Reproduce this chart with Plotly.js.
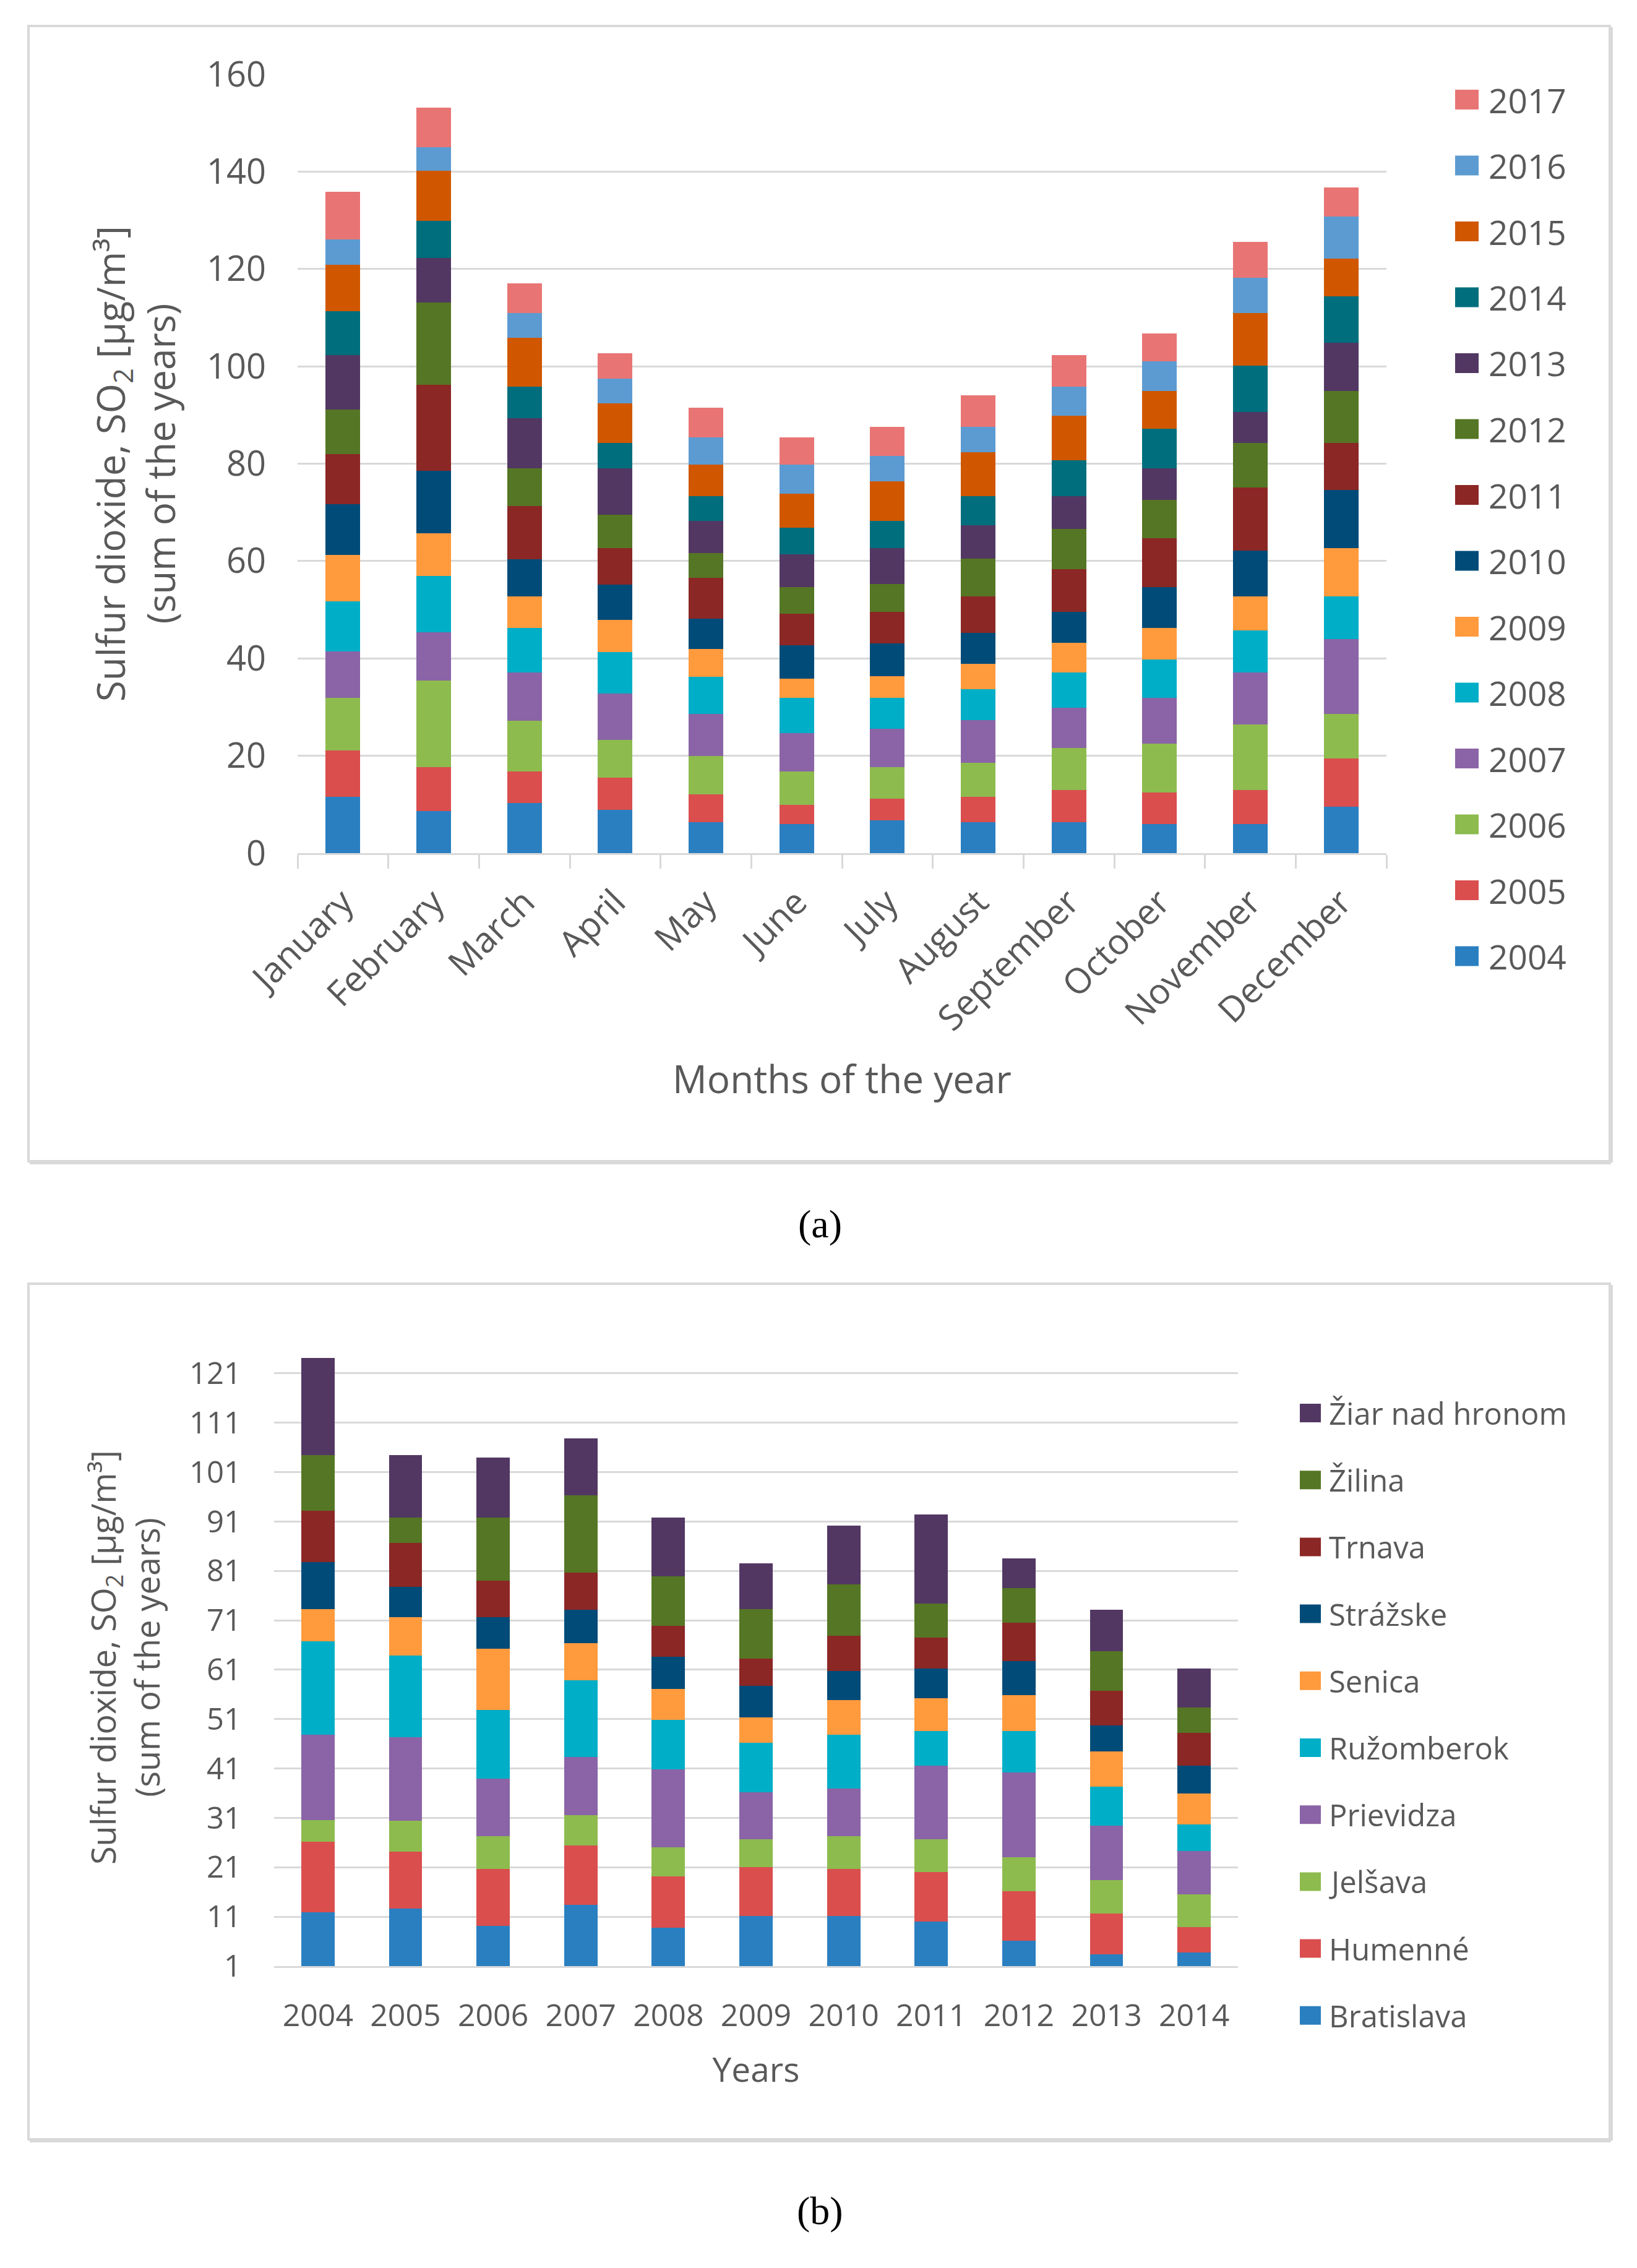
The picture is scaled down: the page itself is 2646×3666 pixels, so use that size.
<!DOCTYPE html>
<html>
<head>
<meta charset="utf-8">
<script src="https://cdn.plot.ly/plotly-3.0.1.min.js"></script>
<style>html,body{margin:0;padding:0;background:#fff;}#chart{width:2646px;height:3666px;}</style>
</head>
<body>
<div id="chart"></div>
<script>
// ---------- Chart (a): months × years ----------
const months = ['January','February','March','April','May','June','July','August','September','October','November','December'];
const yearNames = ['2004','2005','2006','2007','2008','2009','2010','2011','2012','2013','2014','2015','2016','2017'];
const y2004 = [11.6, 8.6, 10.3, 8.9, 6.3, 6.0, 6.7, 6.4, 6.4, 6.0, 6.0, 9.5];
const y2005 = [9.5, 9.1, 6.5, 6.6, 5.8, 3.9, 4.5, 5.2, 6.5, 6.5, 6.9, 9.9];
const y2006 = [10.8, 17.7, 10.4, 7.7, 7.8, 6.9, 6.5, 7.0, 8.7, 10.0, 13.5, 9.2];
const y2007 = [9.5, 10.0, 9.9, 9.6, 8.7, 7.9, 7.8, 8.7, 8.3, 9.4, 10.7, 15.4];
const y2008 = [10.3, 11.5, 9.1, 8.5, 7.6, 7.2, 6.4, 6.4, 7.2, 7.9, 8.6, 8.7];
const y2009 = [9.6, 8.8, 6.5, 6.6, 5.7, 3.9, 4.4, 5.2, 6.1, 6.5, 7.0, 10.0];
const y2010 = [10.4, 12.8, 7.7, 7.3, 6.3, 6.9, 6.8, 6.4, 6.4, 8.4, 9.4, 11.9];
const y2011 = [10.3, 17.7, 10.9, 7.4, 8.4, 6.5, 6.5, 7.4, 8.7, 10.0, 13.0, 9.6];
const y2012 = [9.1, 16.9, 7.7, 6.9, 5.1, 5.5, 5.7, 7.8, 8.3, 7.9, 9.1, 10.7];
const y2013 = [11.2, 9.1, 10.4, 9.5, 6.5, 6.7, 7.3, 6.8, 6.7, 6.4, 6.4, 9.9];
const y2014 = [9.0, 7.7, 6.4, 5.2, 5.1, 5.4, 5.6, 6.0, 7.4, 8.2, 9.6, 9.6];
const y2015 = [9.6, 10.3, 10.0, 8.2, 6.5, 7.1, 8.2, 9.1, 9.1, 7.7, 10.8, 7.7];
const y2016 = [5.2, 4.8, 5.1, 5.1, 5.6, 5.9, 5.2, 5.2, 6.0, 6.1, 7.2, 8.7];
const y2017 = [9.8, 8.2, 6.1, 5.2, 6.1, 5.6, 6.0, 6.5, 6.5, 5.7, 7.3, 6.0];
const yearColors = ['#2A7FC1','#DA4E4E','#8DBB4E','#8A64A6','#00AEC7','#FF9A3D','#004B78','#8B2725','#557624','#523763','#006E7D','#D05700','#5C9BD1','#E87574'];
const yearTickVals = [0, 20, 40, 60, 80, 100, 120, 140, 160];

// ---------- Chart (b): years × stations ----------
const years = ['2004','2005','2006','2007','2008','2009','2010','2011','2012','2013','2014'];
const stationNames = ['Bratislava','Humenné','Jelšava','Prievidza','Ružomberok','Senica','Strážske','Trnava','Žilina','Žiar nad hronom'];
const bratislava = [11.9, 12.7, 9.2, 13.4, 8.8, 11.2, 11.2, 10.0, 6.1, 3.4, 3.8];
const humenne    = [14.3, 11.5, 11.5, 12.0, 10.4, 9.9, 9.5, 10.0, 10.1, 8.2, 5.1];
const jelsava    = [4.3, 6.2, 6.6, 6.2, 5.9, 5.6, 6.6, 6.7, 6.9, 6.8, 6.6];
const prievidza  = [17.3, 17.0, 11.6, 11.7, 15.7, 9.5, 9.7, 14.9, 17.1, 11.0, 8.8];
const ruzomberok = [18.9, 16.5, 13.9, 15.6, 10.0, 10.0, 10.8, 7.0, 8.4, 7.9, 5.4];
const senica     = [6.6, 7.8, 12.4, 7.5, 6.3, 5.1, 7.0, 6.6, 7.3, 7.1, 6.2];
const strazske   = [9.5, 6.1, 6.5, 6.8, 6.5, 6.5, 6.0, 6.0, 6.9, 5.3, 5.7];
const trnava     = [10.4, 8.9, 7.3, 7.4, 6.3, 5.4, 7.1, 6.3, 7.7, 7.0, 6.6];
const zilina     = [11.2, 5.1, 12.8, 15.7, 10.0, 10.1, 10.4, 6.9, 7.0, 8.1, 5.1];
const ziar       = [19.7, 12.7, 12.2, 11.6, 11.9, 9.2, 11.9, 18.0, 6.1, 8.3, 7.9];
const stationColors = ['#2A7FC1','#DA4E4E','#8DBB4E','#8A64A6','#00AEC7','#FF9A3D','#004B78','#8B2725','#557624','#523763'];
const stationTickVals = [1, 11, 21, 31, 41, 51, 61, 71, 81, 91, 101, 111, 121];

// ---------- build ----------
const W = 2646, H = 3666;
const px = v => v / W;
const py = v => 1 - v / H;
const FONT = 'Open Sans, Noto Sans, DejaVu Sans, sans-serif';
const GREY = '#595959';
const GRID = '#d9d9d9';

const yearSeries = [y2004,y2005,y2006,y2007,y2008,y2009,y2010,y2011,y2012,y2013,y2014,y2015,y2016,y2017];
const stationSeries = [bratislava,humenne,jelsava,prievidza,ruzomberok,senica,strazske,trnava,zilina,ziar];

const traces = [];
yearSeries.forEach((s, i) => traces.push({
  type: 'bar', x: months, y: s, name: yearNames[i], xaxis: 'x', yaxis: 'y',
  marker: {color: yearColors[i], line: {width: 0}}, showlegend: false
}));
stationSeries.forEach((s, i) => traces.push({
  type: 'bar', x: years, y: s, name: stationNames[i], xaxis: 'x2', yaxis: 'y2',
  marker: {color: stationColors[i], line: {width: 0}}, showlegend: false
}));

const shapes = [
  // frames
  {type:'rect', xref:'paper', yref:'paper', x0:px(46), x1:px(2602), y0:py(1877), y1:py(42), line:{color:GRID, width:4}},
  {type:'line', xref:'paper', yref:'paper', x0:px(48), x1:px(2604), y0:py(1879), y1:py(1879), line:{color:GRID, width:6}},
  {type:'line', xref:'paper', yref:'paper', x0:px(2604), x1:px(2604), y0:py(44), y1:py(1879), line:{color:GRID, width:6}},
  {type:'rect', xref:'paper', yref:'paper', x0:px(46), x1:px(2602), y0:py(3458), y1:py(2075), line:{color:GRID, width:4}},
  {type:'line', xref:'paper', yref:'paper', x0:px(48), x1:px(2604), y0:py(3460), y1:py(3460), line:{color:GRID, width:6}},
  {type:'line', xref:'paper', yref:'paper', x0:px(2604), x1:px(2604), y0:py(2077), y1:py(3460), line:{color:GRID, width:6}}
];
const annotations = [
  {xref:'paper', yref:'paper', x:px(1325), y:py(1978), text:'(a)', showarrow:false, xanchor:'center', yanchor:'middle',
   font:{family:'Liberation Serif, DejaVu Serif, serif', size:64, color:'#000'}},
  {xref:'paper', yref:'paper', x:px(1325), y:py(3573), text:'(b)', showarrow:false, xanchor:'center', yanchor:'middle',
   font:{family:'Liberation Serif, DejaVu Serif, serif', size:64, color:'#000'}}
];

// legend (a): 2017 at top
for (let k = 0; k < yearNames.length; k++) {
  const i = yearNames.length - 1 - k;
  const cy = 161 + k * 106.5;
  shapes.push({type:'rect', xref:'paper', yref:'paper', x0:px(2352), x1:px(2390), y0:py(cy+16), y1:py(cy-16),
    fillcolor: yearColors[i], line:{width:0}});
  annotations.push({xref:'paper', yref:'paper', x:px(2404), y:py(cy), text:yearNames[i], showarrow:false,
    xanchor:'left', yanchor:'middle', font:{family:FONT, size:55, color:GREY}});
}
// legend (b): Žiar at top
for (let k = 0; k < stationNames.length; k++) {
  const i = stationNames.length - 1 - k;
  const cy = 2284 + k * 108.2;
  shapes.push({type:'rect', xref:'paper', yref:'paper', x0:px(2101), x1:px(2135), y0:py(cy+15), y1:py(cy-15),
    fillcolor: stationColors[i], line:{width:0}});
  annotations.push({xref:'paper', yref:'paper', x:px(2146), y:py(cy), text:stationNames[i], showarrow:false,
    xanchor:'left', yanchor:'middle', font:{family:FONT, size:49, color:GREY}});
}

const layout = {
  width: W, height: H,
  margin: {l:0, r:0, t:0, b:0, pad:0},
  paper_bgcolor: '#fff', plot_bgcolor: 'rgba(0,0,0,0)',
  barmode: 'stack', bargap: 0.62,
  showlegend: false,
  font: {family: FONT, color: GREY},
  xaxis: {
    domain: [px(481), px(2241)], anchor: 'y', type: 'category',
    tickangle: -45, tickfont: {size: 57, color: GREY},
    showline: true, linecolor: GRID, linewidth: 3,
    ticks: 'outside', tickson: 'boundaries', ticklen: 22, tickwidth: 3, tickcolor: GRID,
    ticklabelstandoff: 20,
    title: {text: 'Months of the year', font: {size: 62, color: GREY}, standoff: 44},
    automargin: false, fixedrange: true
  },
  yaxis: {
    domain: [py(1379), py(120)], anchor: 'x',
    range: [0, 160], tickvals: yearTickVals, ticks: '',
    tickfont: {size: 56, color: GREY}, ticklabelstandoff: 50,
    showgrid: true, gridcolor: GRID, gridwidth: 3, zeroline: false,
    title: {text: 'Sulfur dioxide, SO<sub>2</sub> [µg/m³]<br>(sum of the years)', font: {size: 62, color: GREY}, standoff: 30},
    automargin: false, fixedrange: true
  },
  xaxis2: {
    domain: [px(443), px(2001)], anchor: 'y2', type: 'category',
    tickfont: {size: 50, color: GREY}, ticks: '', ticklabelstandoff: 34,
    showline: true, linecolor: GRID, linewidth: 3,
    title: {text: 'Years', font: {size: 55, color: GREY}, standoff: 38},
    automargin: false, fixedrange: true
  },
  yaxis2: {
    domain: [py(3178), py(2180)], anchor: 'x2',
    range: [1, 126], tickvals: stationTickVals, ticks: '',
    tickfont: {size: 49, color: GREY}, ticklabelstandoff: 52,
    showgrid: true, gridcolor: GRID, gridwidth: 3, zeroline: false,
    title: {text: 'Sulfur dioxide, SO<sub>2</sub> [µg/m³]<br>(sum of the years)', font: {size: 54, color: GREY}, standoff: 30},
    automargin: false, fixedrange: true
  },
  shapes: shapes,
  annotations: annotations
};

Plotly.newPlot('chart', traces, layout, {displayModeBar: false, staticPlot: true});
</script>
</body>
</html>
